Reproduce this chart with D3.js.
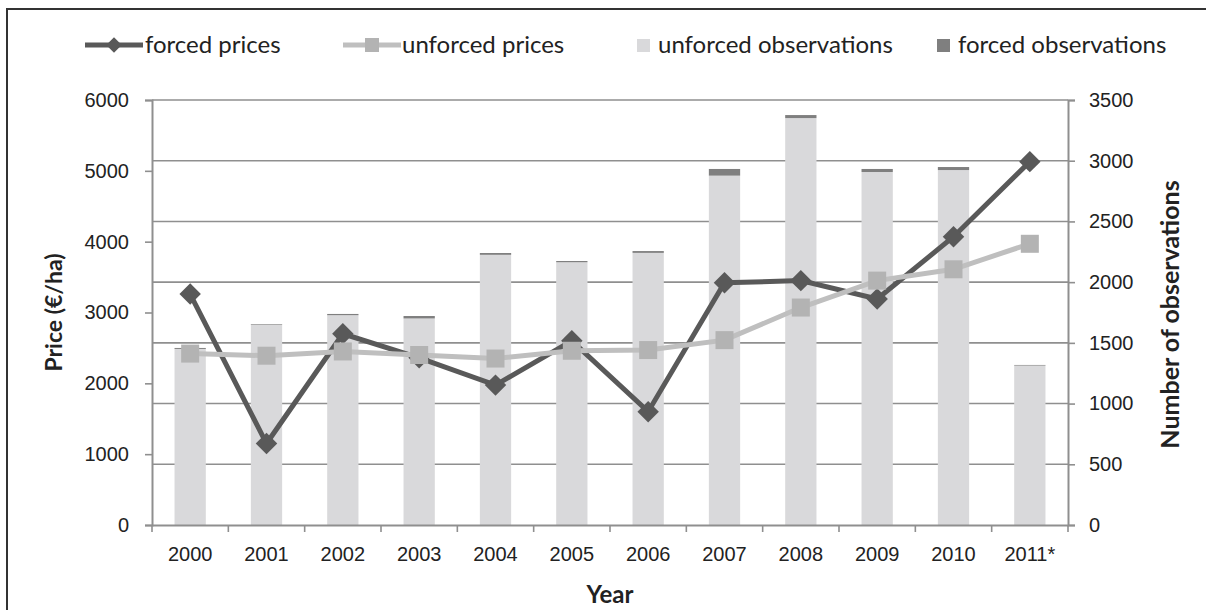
<!DOCTYPE html>
<html>
<head>
<meta charset="utf-8">
<script src="https://cdn.jsdelivr.net/npm/d3@7"></script>
<style>
  body { margin: 0; background: #fff; }
  svg { font-family: Lato, "Open Sans", sans-serif; }
  .tick text { fill: #222; }
</style>
</head>
<body>
<svg id="chart" width="1206" height="610"></svg>
<script>
// data
const years = ['2000', '2001', '2002', '2003', '2004', '2005', '2006', '2007', '2008', '2009', '2010', '2011*'];
const forcedPrices = [3260, 1150, 2700, 2360, 1975, 2600, 1600, 3420, 3450, 3190, 4070, 5130];
const unforcedPrices = [2420, 2390, 2450, 2400, 2350, 2460, 2470, 2610, 3070, 3450, 3610, 3970];
const unforcedObs = [1450, 1650, 1728, 1701, 2225, 2164, 2241, 2877, 3351, 2907, 2923, 1313];
const forcedObs = [8, 5, 10, 20, 15, 10, 15, 55, 25, 25, 25, 5];
const priceTicks = [0, 1000, 2000, 3000, 4000, 5000, 6000];
const obsTicks = [0, 500, 1000, 1500, 2000, 2500, 3000, 3500];

const svg = d3.select('#chart');
const margin = { left: 152, right: 1068, top: 100, bottom: 525 };

const x = d3.scaleBand().domain(years).range([margin.left, margin.right]);
const yPrice = d3.scaleLinear().domain([0, 6000]).range([margin.bottom, margin.top]);
const yObs = d3.scaleLinear().domain([0, 3500]).range([margin.bottom, margin.top]);

const axisColor = '#8f8f8f';

// outer frame
svg.append('rect')
  .attr('x', 7).attr('y', 9)
  .attr('width', 1220).attr('height', 620)
  .attr('fill', 'none')
  .attr('stroke', '#333')
  .attr('stroke-width', 2);

// gridlines (follow the right axis)
svg.append('g')
  .selectAll('line')
  .data(obsTicks.slice(1))
  .enter()
  .append('line')
  .attr('x1', margin.left).attr('x2', margin.right)
  .attr('y1', d => yObs(d)).attr('y2', d => yObs(d))
  .attr('stroke', axisColor)
  .attr('stroke-width', 1.6);

// stacked bars
const barW = x.bandwidth() * 0.41;
const bars = svg.append('g');
bars.selectAll('rect.unforced')
  .data(years)
  .enter()
  .append('rect')
  .attr('class', 'unforced')
  .attr('x', d => x(d) + (x.bandwidth() - barW) / 2)
  .attr('width', barW)
  .attr('y', (d, i) => yObs(unforcedObs[i]))
  .attr('height', (d, i) => yObs(0) - yObs(unforcedObs[i]))
  .attr('fill', '#d9d9db');
bars.selectAll('rect.forced')
  .data(years)
  .enter()
  .append('rect')
  .attr('class', 'forced')
  .attr('x', d => x(d) + (x.bandwidth() - barW) / 2)
  .attr('width', barW)
  .attr('y', (d, i) => yObs(unforcedObs[i] + forcedObs[i]))
  .attr('height', (d, i) => yObs(unforcedObs[i]) - yObs(unforcedObs[i] + forcedObs[i]))
  .attr('fill', '#7f7f7f');

// axes
const leftAxis = svg.append('g')
  .attr('transform', `translate(${margin.left},0)`)
  .call(d3.axisLeft(yPrice).tickValues(priceTicks).tickFormat(d3.format('d')).tickSize(7).tickPadding(16));
const rightAxis = svg.append('g')
  .attr('transform', `translate(${margin.right},0)`)
  .call(d3.axisRight(yObs).tickValues(obsTicks).tickFormat(d3.format('d')).tickSize(7).tickPadding(14));
const bottomAxis = svg.append('g')
  .attr('transform', `translate(0,${margin.bottom})`)
  .call(d3.axisBottom(x).tickSize(0).tickPadding(22));

[leftAxis, rightAxis, bottomAxis].forEach(g => {
  g.select('.domain').attr('stroke', axisColor).attr('stroke-width', 2);
  g.selectAll('.tick line').attr('stroke', axisColor).attr('stroke-width', 1.6);
  g.selectAll('.tick text').style('font-size', '20px');
});

// category boundary ticks on the x axis
svg.append('g')
  .selectAll('line')
  .data(years.concat(['end']))
  .enter()
  .append('line')
  .attr('x1', (d, i) => margin.left + i * x.step())
  .attr('x2', (d, i) => margin.left + i * x.step())
  .attr('y1', margin.bottom)
  .attr('y2', margin.bottom + 7)
  .attr('stroke', axisColor)
  .attr('stroke-width', 1.6);

// lines
const cx = d => x(d) + x.bandwidth() / 2;
const priceLine = d3.line().x((d, i) => cx(years[i])).y(d => yPrice(d));

svg.append('path')
  .datum(forcedPrices)
  .attr('d', priceLine)
  .attr('fill', 'none')
  .attr('stroke', '#595959')
  .attr('stroke-width', 5);
svg.append('g')
  .selectAll('path')
  .data(forcedPrices)
  .enter()
  .append('path')
  .attr('d', d3.symbol().type(d3.symbolSquare).size(230))
  .attr('transform', (d, i) => `translate(${cx(years[i])},${yPrice(d)}) rotate(45)`)
  .attr('fill', '#595959');

svg.append('path')
  .datum(unforcedPrices)
  .attr('d', priceLine)
  .attr('fill', 'none')
  .attr('stroke', '#bfbfbf')
  .attr('stroke-width', 5);
svg.append('g')
  .selectAll('rect')
  .data(unforcedPrices)
  .enter()
  .append('rect')
  .attr('x', (d, i) => cx(years[i]) - 9)
  .attr('y', d => yPrice(d) - 9)
  .attr('width', 18)
  .attr('height', 18)
  .attr('fill', '#b3b3b3');

// axis titles
svg.append('text')
  .attr('transform', `translate(62,${(margin.top + margin.bottom) / 2}) rotate(-90)`)
  .attr('text-anchor', 'middle')
  .style('font-size', '23px')
  .style('font-weight', 'bold')
  .attr('fill', '#222')
  .text('Price (€/ha)');
svg.append('text')
  .attr('transform', `translate(1179,${(margin.top + margin.bottom) / 2 + 2}) rotate(-90)`)
  .attr('text-anchor', 'middle')
  .style('font-size', '25px')
  .style('font-weight', 'bold')
  .attr('fill', '#222')
  .text('Number of observations');
svg.append('text')
  .attr('x', (margin.left + margin.right) / 2)
  .attr('y', 603)
  .attr('text-anchor', 'middle')
  .style('font-size', '24px')
  .style('font-weight', 'bold')
  .attr('fill', '#222')
  .text('Year');

// legend
const legendY = 45;
const legend = svg.append('g').style('font-size', '24px').attr('fill', '#222');

legend.append('line')
  .attr('x1', 85).attr('x2', 143).attr('y1', legendY).attr('y2', legendY)
  .attr('stroke', '#595959').attr('stroke-width', 5);
legend.append('path')
  .attr('d', d3.symbol().type(d3.symbolSquare).size(120))
  .attr('transform', `translate(114,${legendY}) rotate(45)`)
  .attr('fill', '#595959');
legend.append('text').attr('x', 145).attr('y', legendY + 8).text('forced prices');

legend.append('line')
  .attr('x1', 343).attr('x2', 401).attr('y1', legendY).attr('y2', legendY)
  .attr('stroke', '#bfbfbf').attr('stroke-width', 5);
legend.append('rect')
  .attr('x', 365).attr('y', legendY - 7).attr('width', 14).attr('height', 14)
  .attr('fill', '#b3b3b3');
legend.append('text').attr('x', 402).attr('y', legendY + 8).text('unforced prices');

legend.append('rect')
  .attr('x', 637).attr('y', legendY - 6).attr('width', 13).attr('height', 13)
  .attr('fill', '#d9d9db');
legend.append('text').attr('x', 658).attr('y', legendY + 8).text('unforced observations');

legend.append('rect')
  .attr('x', 937).attr('y', legendY - 6).attr('width', 13).attr('height', 13)
  .attr('fill', '#7f7f7f');
legend.append('text').attr('x', 958).attr('y', legendY + 8).text('forced observations');
</script>
</body>
</html>
